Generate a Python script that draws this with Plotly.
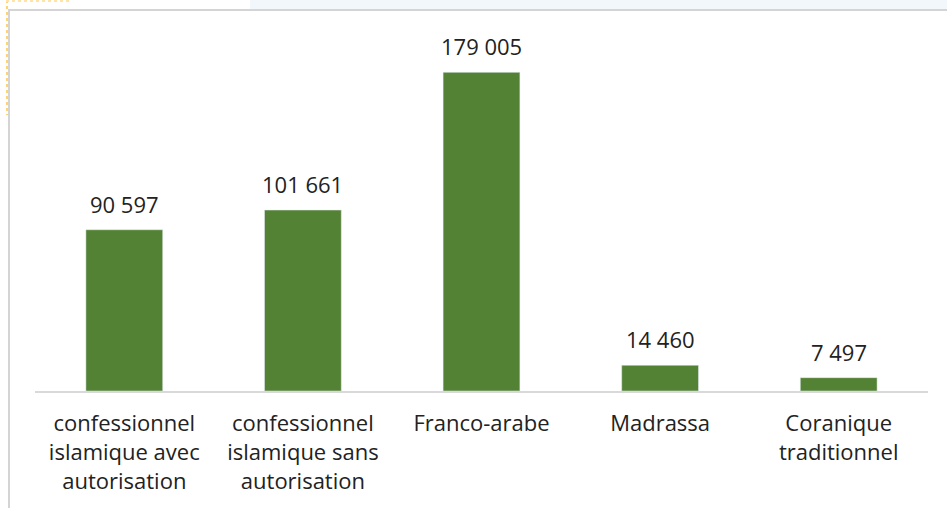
import plotly.graph_objects as go

categories = ["confessionnel<br>islamique avec<br>autorisation",
              "confessionnel<br>islamique sans<br>autorisation",
              "Franco-arabe", "Madrassa", "Coranique<br>traditionnel"]
values = [90597, 101661, 179005, 14460, 7497]
value_labels = [f"{v:,}".replace(",", " ") for v in values]

W, H = 947, 508
L, R, T, B = 35, 19, 35, 117
pw, ph = W - L - R, H - T - B

def px(x):
    return (x - L) / pw

def py(y):
    return (H - B - y) / ph

FONT = "Open Sans, Liberation Sans, sans-serif"
TXT = "#222222"

fig = go.Figure(go.Bar(
    x=categories, y=values, marker_color="#548235", width=0.43,
))

for c, v, t in zip(categories, values, value_labels):
    fig.add_annotation(x=c, y=v, text=t, showarrow=False, yanchor="bottom",
                       yshift=9, font=dict(size=22, color=TXT, family=FONT))

shapes = [
    dict(type="rect", xref="paper", yref="paper", x0=px(250), x1=px(947), y0=py(9), y1=py(0),
         fillcolor="#f2f7fc", line_width=0, layer="below"),
    dict(type="line", xref="paper", yref="paper", x0=px(8), x1=px(947), y0=py(10), y1=py(10),
         line=dict(color="#d4d4d4", width=2)),
    dict(type="line", xref="paper", yref="paper", x0=px(9), x1=px(9), y0=py(10), y1=py(508),
         line=dict(color="#d4d4d4", width=2)),
    dict(type="line", xref="paper", yref="paper", x0=px(7), x1=px(7), y0=py(0), y1=py(115),
         line=dict(color="#ffd27a", width=2, dash="dot")),
    dict(type="line", xref="paper", yref="paper", x0=px(6), x1=px(70), y0=py(1), y1=py(1),
         line=dict(color="#ffe3a8", width=2, dash="dot")),
]

fig.update_layout(
    width=W, height=H, margin=dict(l=L, r=R, t=T, b=B),
    paper_bgcolor="white", plot_bgcolor="white",
    showlegend=False, shapes=shapes,
    font=dict(family=FONT, color=TXT),
    xaxis=dict(showline=True, linecolor="#d9d9d9", linewidth=2, ticks="",
               tickfont=dict(size=22, color=TXT, family=FONT),
               ticklabelstandoff=12, fixedrange=True),
    yaxis=dict(range=[0, 200000], visible=False, showgrid=False, fixedrange=True),
    bargap=0.57,
)

fig.write_html("out.html", config={"displayModeBar": False},
               post_script="document.body.style.margin='0';")
